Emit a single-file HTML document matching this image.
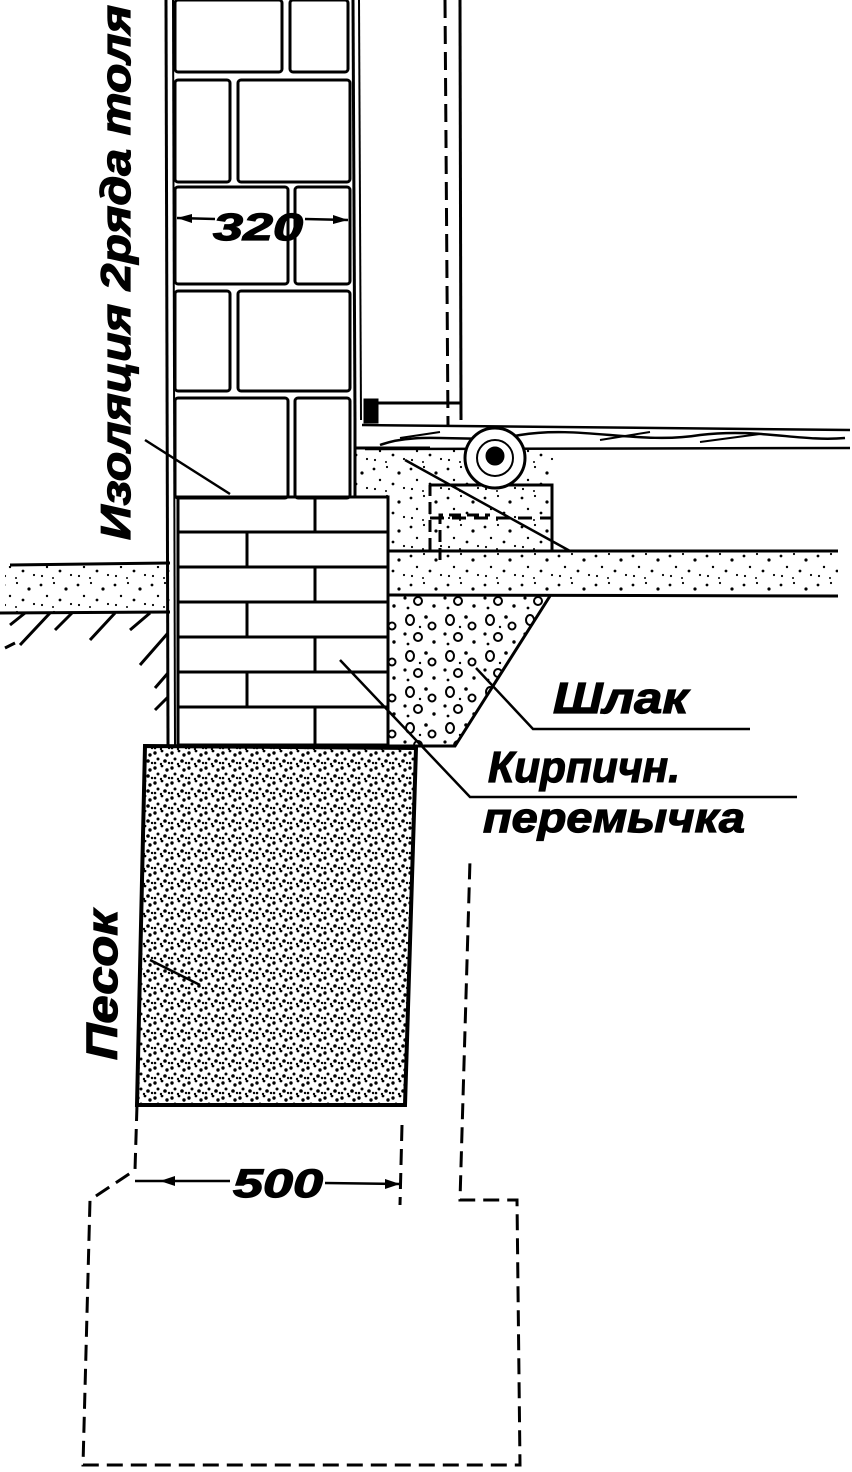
<!DOCTYPE html>
<html><head><meta charset="utf-8"><style>
html,body{margin:0;padding:0;background:#fff}
svg{display:block}
text{font-family:"Liberation Sans","DejaVu Sans",sans-serif;font-weight:bold;font-style:italic;fill:#000;stroke:#000;stroke-width:1.2}
</style></head><body>
<svg width="852" height="1472" viewBox="0 0 852 1472" xmlns="http://www.w3.org/2000/svg">
<defs>
<pattern id="dots" width="37" height="29" patternUnits="userSpaceOnUse">
<circle cx="4" cy="5" r="1.4"/><circle cx="17" cy="3" r="1.1"/><circle cx="29" cy="9" r="1.6"/><circle cx="10" cy="16" r="1.2"/><circle cx="23" cy="20" r="1.4"/><circle cx="34" cy="24" r="1.1"/><circle cx="5" cy="25" r="1.1"/><circle cx="16" cy="27" r="1"/>
</pattern>
<pattern id="sand" width="17" height="15" patternUnits="userSpaceOnUse">
<circle cx="2" cy="3" r="1.7"/><circle cx="9" cy="1" r="1.4"/><circle cx="14" cy="5" r="1.7"/><circle cx="5" cy="9" r="1.5"/><circle cx="12" cy="11" r="1.8"/><circle cx="2" cy="13" r="1.3"/><circle cx="8" cy="14" r="1.2"/><circle cx="16" cy="13" r="1.2"/>
</pattern>
<pattern id="slag" width="40" height="36" patternUnits="userSpaceOnUse">
<ellipse cx="10" cy="8" rx="4" ry="5" fill="none" stroke="#000" stroke-width="2"/><circle cx="26" cy="5" r="1.8"/><circle cx="32" cy="14" r="3.5" fill="none" stroke="#000" stroke-width="2"/><circle cx="5" cy="22" r="1.6"/><circle cx="18" cy="25" r="4" fill="none" stroke="#000" stroke-width="2"/><circle cx="34" cy="30" r="1.7"/><circle cx="20" cy="15" r="1.2"/><circle cx="8" cy="32" r="1.4"/>
</pattern>
</defs>
<g fill="none" stroke="#000" stroke-width="3">
<line x1="166" y1="0" x2="168" y2="745"/>
<line x1="173" y1="0" x2="175" y2="745" stroke-width="2"/>
<line x1="353" y1="0" x2="355" y2="420"/>
<line x1="359" y1="0" x2="361" y2="420" stroke-width="2"/>
<line x1="445" y1="0" x2="448" y2="425" stroke-dasharray="18,8"/>
<line x1="460" y1="0" x2="461" y2="420"/>
<rect x="175" y="0" width="107" height="72" rx="3"/><rect x="290" y="0" width="58" height="72" rx="3"/>
<rect x="175" y="80" width="55" height="102" rx="3"/><rect x="238" y="80" width="112" height="102" rx="3"/>
<rect x="175" y="187" width="113" height="97" rx="3"/><rect x="295" y="187" width="55" height="97" rx="3"/>
<rect x="175" y="291" width="55" height="100" rx="3"/><rect x="238" y="291" width="112" height="100" rx="3"/>
<rect x="175" y="398" width="113" height="100" rx="3"/><rect x="295" y="398" width="55" height="100" rx="3"/>
</g>
<text x="0" y="0" font-size="42" transform="translate(130,540) rotate(-90)" textLength="535" lengthAdjust="spacingAndGlyphs">Изоляция 2ряда толя</text>
<g stroke="#000" stroke-width="2.5"><line x1="177" y1="218" x2="215" y2="219"/><line x1="305" y1="219" x2="348" y2="220"/></g>
<polygon points="177,218 192,214 192,223"/><polygon points="348,220 333,215 333,224"/>
<text x="213" y="240" font-size="38" textLength="90" lengthAdjust="spacingAndGlyphs">320</text>
<path d="M355,450 L555,450 L555,550 L388,550 L388,498 L355,498 Z" fill="url(#dots)" stroke="none"/>
<g fill="none" stroke="#000" stroke-width="3">
<line x1="355" y1="448" x2="430" y2="448"/>
<line x1="355" y1="420" x2="355" y2="498"/>
<rect x="365" y="400" width="12" height="22" fill="#000"/>
<line x1="377" y1="403" x2="460" y2="403"/>
<polyline points="430,485 552,485 552,550"/>
<line x1="430" y1="518" x2="552" y2="518" stroke-dasharray="14,8"/>
<polyline points="430,550 430,485" stroke-dasharray="12,6"/>
<polyline points="440,560 440,515 490,515" stroke-dasharray="12,6"/>
<path d="M362,425 L850,430 M365,449 L850,448 M380,445 C420,430 470,445 520,435 C580,425 640,445 700,435 C760,428 800,442 845,438" stroke-width="2.5"/>
<path d="M400,438 L440,432 M600,440 L650,432 M700,442 L760,434" stroke-width="2"/>
<circle cx="495" cy="458" r="30" fill="#fff"/>
<circle cx="495" cy="458" r="18" stroke-width="2"/>
<circle cx="495" cy="456" r="8" fill="#000"/>
</g>
<rect x="388" y="552" width="450" height="42" fill="url(#dots)"/>
<g fill="none" stroke="#000" stroke-width="3">
<line x1="388" y1="551" x2="838" y2="551"/>
<line x1="388" y1="595" x2="838" y2="596"/>
</g>
<path d="M388,596 L550,596 L455,746 L388,746 Z" fill="url(#slag)" stroke="none"/>
<path d="M550,596 L455,746 L388,746 L388,498" fill="none" stroke="#000" stroke-width="3"/>
<rect x="5" y="566" width="165" height="46" fill="url(#dots)"/>
<g fill="none" stroke="#000" stroke-width="3">
<line x1="10" y1="565" x2="170" y2="563"/>
<line x1="0" y1="613" x2="170" y2="612"/>
<path d="M10,625 L25,613 M20,645 L50,613 M55,630 L72,613 M90,640 L115,613 M130,630 L150,613 M140,665 L168,633 M155,688 L168,673 M155,710 L168,697 M5,648 L15,643"/>
</g>
<g fill="none" stroke="#000" stroke-width="3">
<rect x="178" y="497" width="210" height="248"/>
<line x1="178" y1="532" x2="388" y2="532"/><line x1="178" y1="567" x2="388" y2="567"/>
<line x1="178" y1="602" x2="388" y2="602"/><line x1="178" y1="637" x2="388" y2="637"/>
<line x1="178" y1="672" x2="388" y2="672"/><line x1="178" y1="707" x2="388" y2="707"/>
<line x1="315" y1="497" x2="315" y2="532"/><line x1="247" y1="532" x2="247" y2="567"/>
<line x1="315" y1="567" x2="315" y2="602"/><line x1="247" y1="602" x2="247" y2="637"/>
<line x1="315" y1="637" x2="315" y2="672"/><line x1="247" y1="672" x2="247" y2="707"/>
<line x1="315" y1="707" x2="315" y2="745"/>
</g>
<path d="M145,746 L416,748 L405,1105 L137,1105 Z" fill="url(#sand)" stroke="#000" stroke-width="4"/>
<g fill="none" stroke="#000" stroke-width="3" stroke-dasharray="16,8">
<polyline points="137,1105 135,1170 90,1200 83,1465 520,1465 517,1200 460,1200 470,860"/>
<line x1="402" y1="1125" x2="400" y2="1205"/>
</g>
<g stroke="#000" stroke-width="2.5"><line x1="135" y1="1181" x2="230" y2="1181"/><line x1="325" y1="1183" x2="400" y2="1184"/></g>
<polygon points="160,1181 175,1176 175,1186"/><polygon points="400,1184 385,1179 385,1189"/>
<text x="233" y="1197" font-size="40" textLength="90" lengthAdjust="spacingAndGlyphs">500</text>
<g fill="none" stroke="#000" stroke-width="2.5">
<line x1="145" y1="440" x2="230" y2="494"/>
<line x1="405" y1="460" x2="570" y2="551"/>
<polyline points="750,729 533,729 476,668"/>
<polyline points="797,797 470,797 340,660"/>
<line x1="150" y1="960" x2="200" y2="985"/>
</g>
<text x="553" y="713" font-size="44" textLength="135" lengthAdjust="spacingAndGlyphs">Шлак</text>
<text x="488" y="782" font-size="44" textLength="192" lengthAdjust="spacingAndGlyphs">Кирпичн.</text>
<text x="483" y="832" font-size="42" textLength="262" lengthAdjust="spacingAndGlyphs">перемычка</text>
<text x="0" y="0" font-size="44" transform="translate(117,1060) rotate(-90)" textLength="150" lengthAdjust="spacingAndGlyphs">Песок</text>
</svg>
</body></html>
